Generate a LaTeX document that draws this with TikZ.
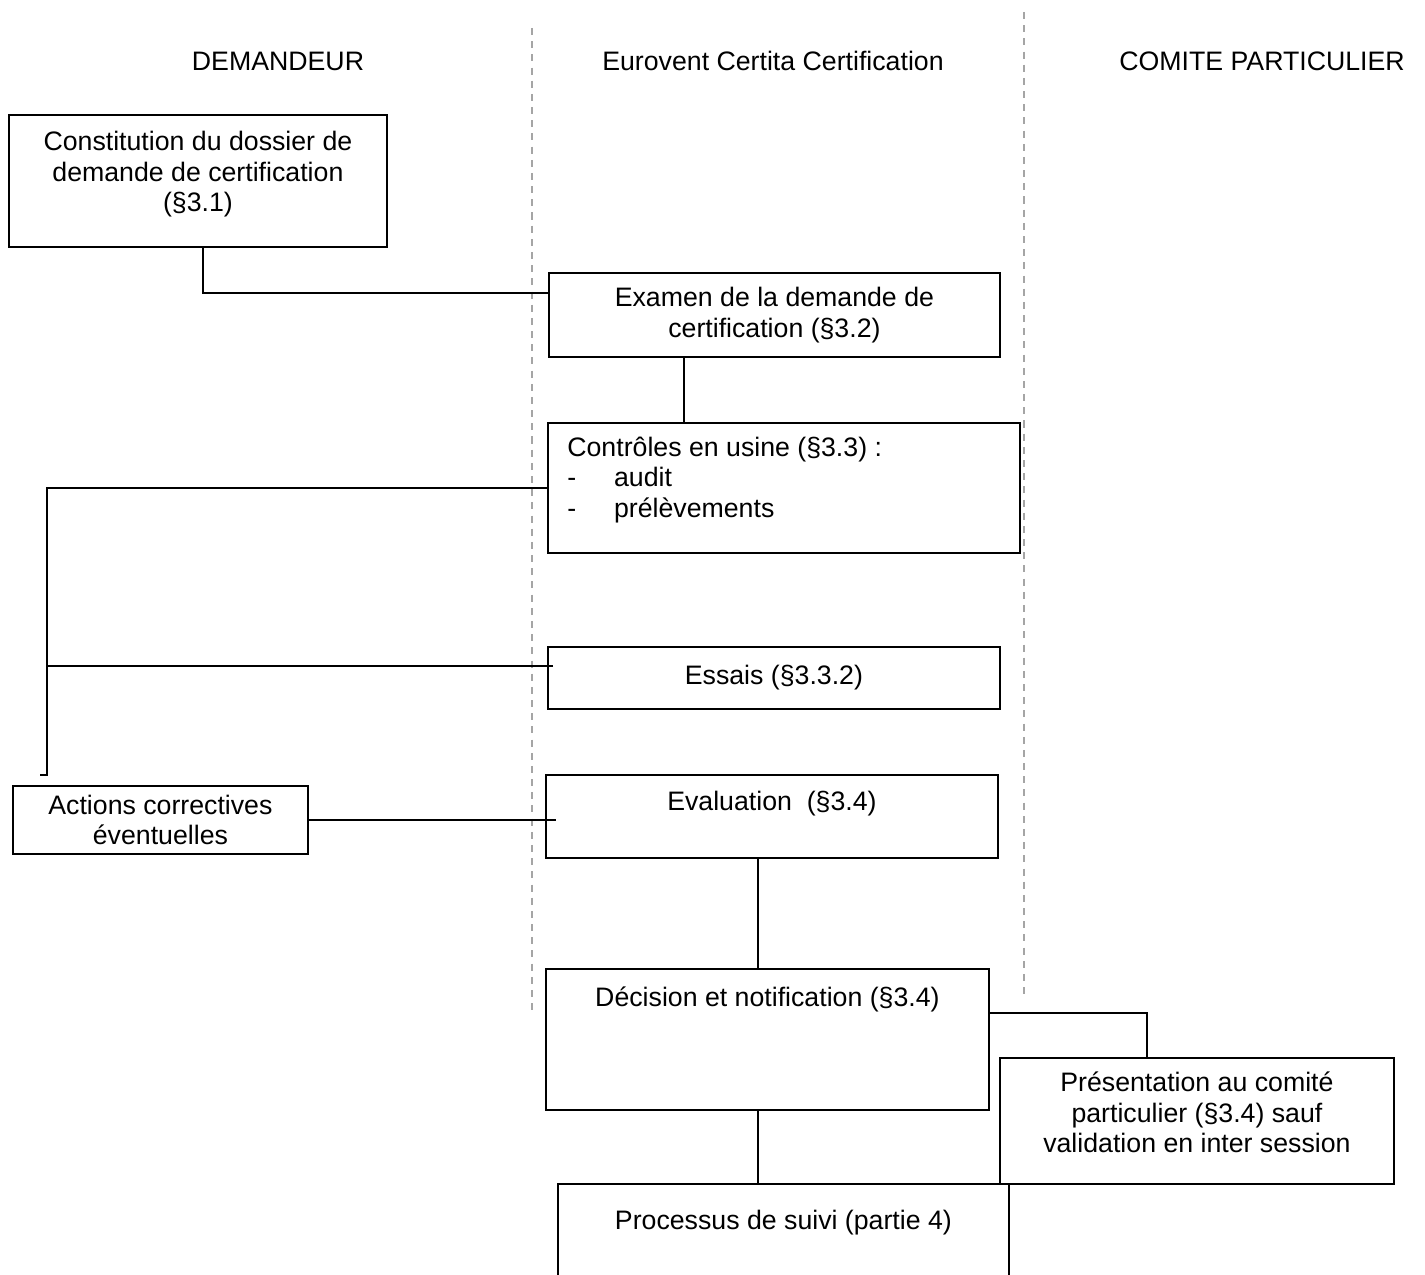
\documentclass[tikz,border=0pt]{standalone}
\usepackage{fontspec}
\setmainfont{Liberation Sans}
\usetikzlibrary{positioning}
\definecolor{LaneGray}{RGB}{165,165,165}
\newcommand{\boxfont}{\fontsize{15.2}{17.4}\selectfont}
\newcommand{\flowbox}[3]{
    \node(#1)[
        draw,
        line width=1.1pt,
        inner sep=0pt,
        %text centered,
        align=center,
        fill=white,
        font=\boxfont,
        #2
    ]{#3};
}
\tikzset{
    link/.style={line width=1pt},
    lane/.style={line width=0.8pt, color=LaneGray, dash pattern=on 4pt off 3.5pt},
    lanehead/.style={anchor=base, font=\boxfont, inner sep=0pt}
}

\begin{document}
\begin{tikzpicture}[x=0.02cm, y=-0.02cm]
	\useasboundingbox (0,0) rectangle (1425,1274);
	
	\node (dem) [lanehead] at (278,71) {DEMANDEUR};
	\node (ecc) [lanehead] at (773,71) {Eurovent Certita Certification};
	\node (comite) [lanehead] at (1262,71) {COMITE PARTICULIER};
	
	\coordinate (lane1 top) at (532,28);
	\coordinate (lane1 bot) at (532,1010);
	\coordinate (lane2 top) at (1024,12);
	\coordinate (lane2 bot) at (1024,995);
	\draw[lane] (lane1 top) -- (lane1 bot);
	\draw[lane] (lane2 top) -- (lane2 bot);
	
	\flowbox{const}{anchor=north west, minimum width=7.56cm, text height=55pt, text depth=20.4pt, at={(8,114)}}{Constitution du dossier de\\demande de certification\\(§3.1)}
	
	\flowbox{exam}{anchor=north west, minimum width=9.02cm, minimum height=1.68cm, at={(548,272)}}{Examen de la demande de\\certification (§3.2)}
	
	\flowbox{ctrl}{below=1.28cm of exam.south west, anchor=north west, xshift=-0.02cm, minimum width=9.44cm, minimum height=2.6cm}{}
	\node (ctrltxt) [anchor=base west, align=left, inner sep=0pt, font=\boxfont] at ([shift={(20,95.4)}]ctrl.north west) {Contrôles en usine (§3.3) :\\
	\makebox[26.6pt][l]{-}audit\\
	\makebox[26.6pt][l]{-}prélèvements};
	
	\flowbox{essais}{below=1.84cm of ctrl.south west, anchor=north west, minimum width=9.04cm, minimum height=1.24cm}{Essais (§3.3.2)}
	
	\flowbox{eval}{below=1.28cm of essais.south west, anchor=north west, xshift=-0.04cm, minimum width=9.04cm, text height=20.4pt, text depth=27.2pt}{Evaluation\ \ (§3.4)}
	
	\flowbox{actions}{anchor=north west, minimum width=5.9cm, minimum height=1.36cm, at={(12,785)}}{Actions correctives\\éventuelles}
	
	\flowbox{decision}{below=2.18cm of eval.south west, anchor=north west, minimum width=8.86cm, text height=21pt, text depth=59pt}{Décision et notification (§3.4)}
	
	\flowbox{pres}{anchor=north west, minimum width=7.88cm, text height=53.9pt, text depth=17.6pt, at={(999,1057)}}{Présentation au comité\\particulier (§3.4) sauf\\validation en inter session}
	
	\flowbox{suivi}{below=1.44cm of decision.south west, anchor=north west, xshift=0.24cm, minimum width=9.02cm, text height=26pt, text depth=34.1pt}{Processus de suivi (partie 4)}
	
	\draw[link] ([xshift=0.1cm]const.south) |- ([yshift=0.44cm]exam.west);
	\draw[link] ([xshift=-1.81cm]exam.south) -- ([xshift=-1.81cm]exam.south |- ctrl.north);
	
	\coordinate (loop) at (47,775);
	\draw[link] (ctrl.west) -| (loop) -- ++(-7,0);
	\coordinate (essais in) at ([shift={(6,-12)}]essais.west);
	\draw[link] (essais in) -- (essais in -| loop);
	
	\draw[link] (actions.east) -- ([xshift=0.22cm]eval.west |- actions.east);
	\draw[link] ([xshift=-0.28cm]eval.south) -- ([xshift=-0.28cm]eval.south |- decision.north);
	\draw[link] ([yshift=0.53cm]decision.east) -| ([xshift=-1cm]pres.north);
	\draw[link] ([xshift=-0.19cm]decision.south) -- ([xshift=-0.19cm]decision.south |- suivi.north);
\end{tikzpicture}
\end{document}
